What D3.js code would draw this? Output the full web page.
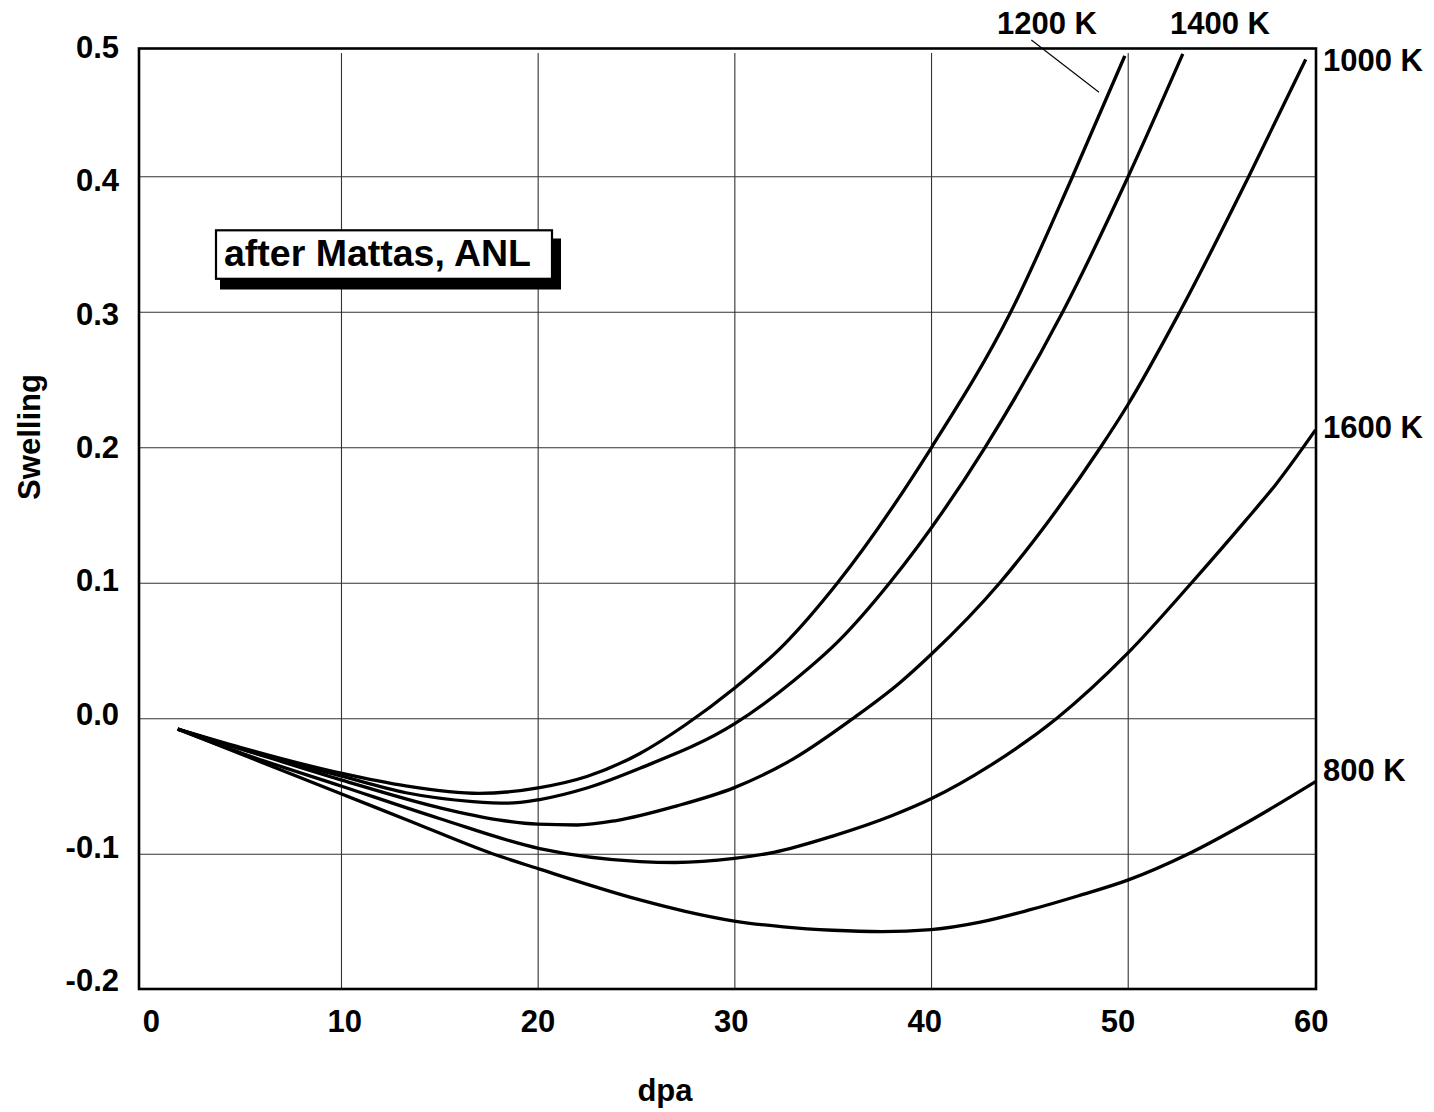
<!DOCTYPE html>
<html>
<head>
<meta charset="utf-8">
<script src="https://cdn.jsdelivr.net/npm/d3@7"></script>
<style>
  html, body { margin: 0; padding: 0; background: #fff; }
  svg text { font-family: "Liberation Sans", Arial, Helvetica, sans-serif; font-weight: bold; fill: #000; }
</style>
</head>
<body>
<svg id="chart" width="1434" height="1112"></svg>
<script>
// Axis ticks and labels
const xTicks = [0, 10, 20, 30, 40, 50, 60];
const xTickLabels = ["0", "10", "20", "30", "40", "50", "60"];
const yTicks = [-0.2, -0.1, 0.0, 0.1, 0.2, 0.3, 0.4, 0.5];
const yTickLabels = ["-0.2", "-0.1", "0.0", "0.1", "0.2", "0.3", "0.4", "0.5"];
const xGrid = [10, 20, 30, 40, 50];
const yGrid = [-0.1, 0.0, 0.1, 0.2, 0.3, 0.4];

// Swelling vs. dose (dpa) for each irradiation temperature
const dpa800   = [1.7, 5, 10, 13.3, 17.7, 20.1, 25.2, 27.5, 30, 32.5, 35, 37.5, 40, 42.5, 45, 47.5, 50, 53.1, 56, 59.55];
const swell800 = [-0.008, -0.027, -0.0557, -0.0747, -0.100, -0.1114, -0.1341, -0.1425, -0.1497, -0.1540, -0.1565, -0.1575, -0.1560, -0.1505, -0.1415, -0.131, -0.1195, -0.100, -0.0775, -0.0468];

const dpa1000   = [1.7, 5, 10, 15, 18, 20, 22, 24, 27, 30, 33, 36.05, 38.4, 40, 43.5, 46, 48.62, 50, 52.65, 56.16, 59.05];
const swell1000 = [-0.008, -0.023, -0.0455, -0.066, -0.075, -0.0782, -0.0788, -0.0755, -0.065, -0.0512, -0.030, 0.0, 0.026, 0.047, 0.100, 0.146, 0.200, 0.2312, 0.300, 0.400, 0.4863];

const dpa1200   = [1.7, 5, 10, 13.3, 17, 20.1, 22.5, 25.2, 27.5, 30, 32.5, 35.25, 40.03, 44.06, 47.2, 49.85];
const swell1200 = [-0.008, -0.022, -0.0406, -0.050, -0.0555, -0.0512, -0.043, -0.026, -0.005, 0.0221, 0.054, 0.100, 0.200, 0.300, 0.400, 0.4888];

const dpa1400   = [1.7, 5, 10, 13.3, 16.7, 18.5, 20.1, 22.5, 25.2, 30, 33, 35.37, 37.9, 42.75, 46.7, 50.03, 52.8];
const swell1400 = [-0.008, -0.023, -0.0426, -0.055, -0.0615, -0.0627, -0.0600, -0.0515, -0.0369, -0.0042, 0.0275, 0.058, 0.100, 0.200, 0.300, 0.400, 0.4903];

const dpa1600   = [1.7, 5, 10, 15, 20.1, 25.2, 27, 30, 32, 35, 38, 40, 43, 46.4, 50, 53.25, 56, 57.5, 59.55];
const swell1600 = [-0.008, -0.026, -0.050, -0.074, -0.0962, -0.1058, -0.1065, -0.1035, -0.099, -0.087, -0.072, -0.0595, -0.035, 0.0, 0.048, 0.100, 0.146, 0.172, 0.2128];

const temperatureLabels = ["800 K", "1000 K", "1200 K", "1400 K", "1600 K"];
const annotationText = "after Mattas, ANL";

// Leader from the "1200 K" label down to its curve, in data units
const leaderDpa = [45.1, 48.54];
const leaderSwell = [0.5006, 0.462];

const series = [
  { name: temperatureLabels[0], dpa: dpa800,  swell: swell800 },
  { name: temperatureLabels[1], dpa: dpa1000, swell: swell1000 },
  { name: temperatureLabels[2], dpa: dpa1200, swell: swell1200 },
  { name: temperatureLabels[3], dpa: dpa1400, swell: swell1400 },
  { name: temperatureLabels[4], dpa: dpa1600, swell: swell1600 }
];

// Layout
const frame = { left: 139, right: 1316, top: 48.5, bottom: 989 };
const gridTop = 53;
const fontSize = 31;

const svg = d3.select("#chart");
svg.append("rect").attr("width", 1434).attr("height", 1112).attr("fill", "#fff");

// Data scales (used for curves and grid)
const x = d3.scaleLinear().domain([0, 60]).range([144.3, 1324.4]);
const y = d3.scaleLinear().domain([-0.2, 0.5]).range([989.2, 40.8]);
// Tick-label placement scales
const xLabelScale = d3.scaleLinear().domain([0, 60]).range([150.8, 1310.8]);
const yLabelScale = d3.scaleLinear().domain([-0.2, 0.5]).range([979.7, 46.3]);

// Horizontal grid
svg.append("g")
  .attr("transform", `translate(${frame.left},0)`)
  .call(d3.axisLeft(y).tickValues(yGrid).tickSize(-(frame.right - frame.left)).tickFormat(""))
  .call(g => g.select(".domain").remove())
  .call(g => g.selectAll(".tick line").attr("stroke", "#333").attr("stroke-width", 1.1));

// Vertical grid
svg.append("g")
  .attr("transform", `translate(0,${frame.bottom})`)
  .call(d3.axisBottom(x).tickValues(xGrid).tickSize(-(frame.bottom - gridTop)).tickFormat(""))
  .call(g => g.select(".domain").remove())
  .call(g => g.selectAll(".tick line").attr("stroke", "#333").attr("stroke-width", 1.1));

// X tick labels
svg.append("g")
  .attr("transform", "translate(0,1031.5)")
  .call(d3.axisBottom(xLabelScale).tickValues(xTicks).tickSize(0).tickPadding(0)
        .tickFormat((d, i) => xTickLabels[i]))
  .call(g => g.select(".domain").remove())
  .call(g => g.selectAll("text")
        .attr("y", 0).attr("dy", null)
        .style("font-size", fontSize + "px"));

// Y tick labels
svg.append("g")
  .attr("transform", "translate(119,0)")
  .call(d3.axisLeft(yLabelScale).tickValues(yTicks).tickSize(0).tickPadding(0)
        .tickFormat((d, i) => yTickLabels[i]))
  .call(g => g.select(".domain").remove())
  .call(g => g.selectAll("text")
        .attr("x", 0).attr("dy", "0.36em")
        .attr("text-anchor", "end")
        .style("font-size", fontSize + "px"));

// Curves
const line = d3.line()
  .x(d => x(d[0]))
  .y(d => y(d[1]))
  .curve(d3.curveMonotoneX);

svg.append("g")
  .selectAll("path")
  .data(series)
  .join("path")
  .attr("d", s => line(s.dpa.map((v, i) => [v, s.swell[i]])))
  .attr("fill", "none")
  .attr("stroke", "#000")
  .attr("stroke-width", 3.3)
  .attr("stroke-linejoin", "round")
  .attr("stroke-linecap", "butt");

// Leader line for the 1200 K label
svg.append("line")
  .attr("x1", x(leaderDpa[0])).attr("y1", y(leaderSwell[0]))
  .attr("x2", x(leaderDpa[1])).attr("y2", y(leaderSwell[1]))
  .attr("stroke", "#000").attr("stroke-width", 1.1);

// Temperature labels
const labelPos = [
  { x: 1323, y: 781 },    // 800 K
  { x: 1323, y: 71 },     // 1000 K
  { x: 997,  y: 34 },     // 1200 K
  { x: 1170, y: 34 },     // 1400 K
  { x: 1323, y: 437.5 }   // 1600 K
];
svg.append("g")
  .selectAll("text")
  .data(series)
  .join("text")
  .attr("x", (d, i) => labelPos[i].x)
  .attr("y", (d, i) => labelPos[i].y)
  .style("font-size", fontSize + "px")
  .text(d => d.name);

// Annotation box with drop shadow
const box = svg.append("g");
box.append("rect")
  .attr("x", 220).attr("y", 238.5).attr("width", 341).attr("height", 51)
  .attr("fill", "#000");
box.append("rect")
  .attr("x", 216).attr("y", 230.3).attr("width", 336).attr("height", 48.5)
  .attr("fill", "#fff").attr("stroke", "#000").attr("stroke-width", 2.2);
box.append("text")
  .attr("x", 224).attr("y", 266)
  .style("font-size", "37.5px")
  .text(annotationText);

// Plot frame
svg.append("rect")
  .attr("x", frame.left).attr("y", frame.top)
  .attr("width", frame.right - frame.left)
  .attr("height", frame.bottom - frame.top)
  .attr("fill", "none").attr("stroke", "#000").attr("stroke-width", 2.6);

// Axis titles
svg.append("text")
  .attr("transform", "translate(40,437) rotate(-90)")
  .attr("text-anchor", "middle")
  .style("font-size", fontSize + "px")
  .text("Swelling");

svg.append("text")
  .attr("x", 665).attr("y", 1100.5)
  .attr("text-anchor", "middle")
  .style("font-size", fontSize + "px")
  .text("dpa");
</script>
</body>
</html>
